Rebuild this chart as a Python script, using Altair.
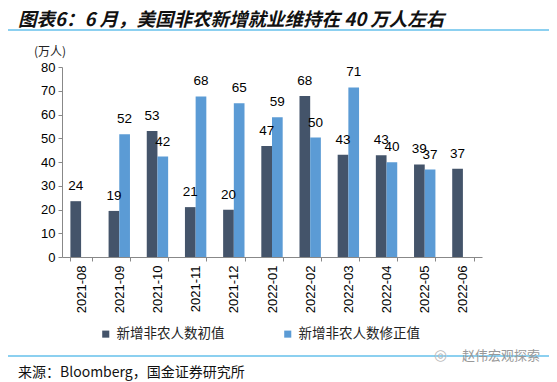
import altair as alt
import pandas as pd

months = ["2021-08", "2021-09", "2021-10", "2021-11", "2021-12", "2022-01",
          "2022-02", "2022-03", "2022-04", "2022-05", "2022-06"]
initial = [23.5, 19.4, 53.1, 21.0, 19.9, 46.7, 67.8, 43.1, 42.8, 39.0, 37.2]
revised = [None, 51.7, 42.3, 67.6, 64.7, 58.8, 50.3, 71.4, 39.9, 36.8, None]
series_names = ["新增非农人数初值", "新增非农人数修正值"]
colors = ["#44546A", "#5B9BD5"]
y_ticks = [0, 10, 20, 30, 40, 50, 60, 70, 80]

title_text = "图表6：6 月，美国非农新增就业维持在 40 万人左右"
unit_text = "(万人)"
source_text = "来源：Bloomberg，国金证券研究所"
watermark_text = "赵伟宏观探索"

rows = []
for m, a, b in zip(months, initial, revised):
    if a is not None:
        rows.append({"month": m, "series": series_names[0], "value": a})
    if b is not None:
        rows.append({"month": m, "series": series_names[1], "value": b})
df = pd.DataFrame(rows)

W, H = 420, 190

xenc = alt.X("month:N", sort=months, title=None,
             scale=alt.Scale(paddingInner=0.44, paddingOuter=0.22),
             axis=alt.Axis(labelAngle=270, labelAlign="right", labelBaseline="middle",
                           labelFont="Liberation Sans", labelFontSize=13, labelColor="#000",
                           labelPadding=4, tickBand="extent", tickSize=4,
                           domainColor="#888", tickColor="#888"))
yenc = alt.Y("value:Q", title=None,
             scale=alt.Scale(domain=[0, 80], nice=False),
             axis=alt.Axis(values=y_ticks, grid=False, labelOverlap=False,
                           labelFont="Liberation Sans", labelFontSize=13, labelColor="#000",
                           tickSize=4, labelPadding=3, domainColor="#888", tickColor="#888"))
xoff = alt.XOffset("series:N", sort=series_names)
color = alt.Color("series:N", sort=series_names,
                  scale=alt.Scale(domain=series_names, range=colors),
                  legend=alt.Legend(title=None, orient="none", direction="horizontal",
                                    legendX=37, legendY=260, symbolType="square",
                                    symbolSize=50, symbolStrokeWidth=0,
                                    labelFont="Noto Sans CJK SC", labelFontSize=13.5,
                                    labelColor="#222", labelOffset=4, columnPadding=56))

base = alt.Chart(df)
bars = base.mark_bar().encode(x=xenc, y=yenc, xOffset=xoff, color=color)
labels = base.mark_text(baseline="bottom", dy=-8, font="Liberation Sans",
                        fontSize=13.5, color="#000").encode(
    x=xenc, y=yenc, xOffset=xoff,
    text=alt.Text("value:Q", format=".0f"))

one = pd.DataFrame({"k": [0]})
def txt(s, x, y, **kw):
    return alt.Chart(one).mark_text(align="left", baseline="alphabetic", **kw).encode(
        x=alt.value(x), y=alt.value(y), text=alt.value(s))

def hline(x1, x2, y, c):
    return alt.Chart(one).mark_rule(color=c, strokeWidth=1.2).encode(
        x=alt.value(x1), x2=alt.value(x2), y=alt.value(y))

title = txt(title_text, -44, -41, font="Noto Sans CJK SC", fontSize=18.5,
            fontWeight="bold", fontStyle="italic", color="#111")
tline = hline(-55, 487, -37, "#1BA1E2")
unit = txt(unit_text, -28, -11, font="Noto Sans CJK SC", fontSize=12, color="#222")
fline = hline(-55, 487, 289, "#1BA1E2")
source = txt(source_text, -44, 310, font="Noto Sans CJK SC", fontSize=14, color="#111")
wm = txt(watermark_text, 400, 293, font="Noto Sans CJK SC", fontSize=13, color="#999")
icon = txt("◎", 372, 293, font="DejaVu Sans", fontSize=15, color="#bbb")

chart = alt.layer(bars, labels, title, tline, unit, fline, source, wm, icon).properties(
    width=W, height=H,
    autosize=alt.AutoSizeParams(type="none"),
    padding={"left": 54, "top": 59, "right": 67, "bottom": 124},
).configure(background="white").configure_view(stroke=None)

chart.save("out.html", embed_options={"renderer": "svg", "actions": False})
